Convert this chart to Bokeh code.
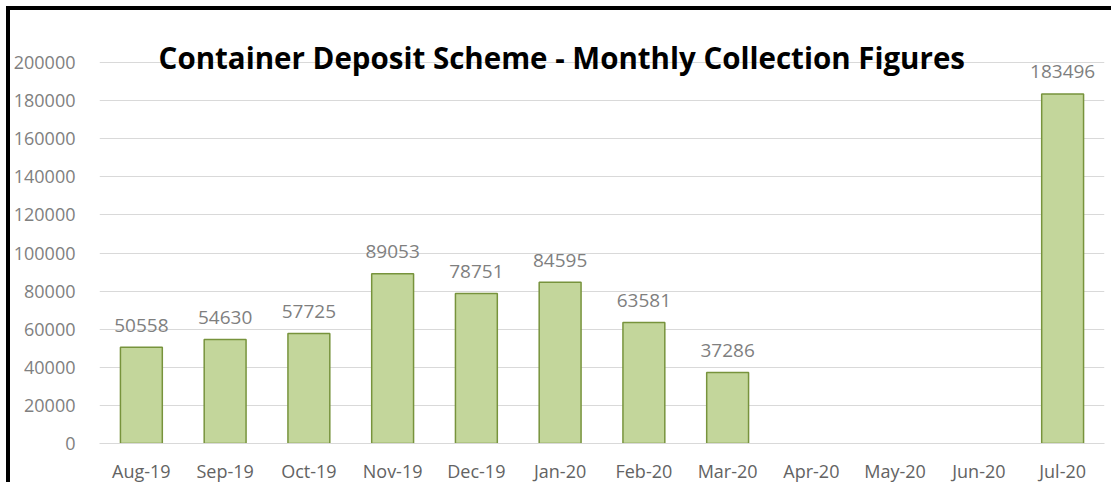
from bokeh.plotting import figure
from bokeh.models import FactorRange, Range1d, FixedTicker, Label, ColumnDataSource, NumeralTickFormatter
from bokeh.core.properties import value
from bokeh.embed import file_html
from bokeh.resources import INLINE

months = ["Aug-19", "Sep-19", "Oct-19", "Nov-19", "Dec-19", "Jan-20",
          "Feb-20", "Mar-20", "Apr-20", "May-20", "Jun-20", "Jul-20"]
collections = [50558, 54630, 57725, 89053, 78751, 84595,
               63581, 37286, None, None, None, 183496]
y_ticks = list(range(0, 200001, 20000))
title_text = "Container Deposit Scheme - Monthly Collection Figures"

FONT = "Open Sans"

pairs = [(m, v) for m, v in zip(months, collections) if v is not None]
src = ColumnDataSource(dict(
    month=[m for m, _ in pairs],
    val=[v for _, v in pairs],
    lbl=[str(v) for _, v in pairs],
))

W, H = 1105, 476
p = figure(width=W, height=H, output_backend="svg", toolbar_location=None,
           x_range=FactorRange(factors=months, range_padding=0),
           y_range=Range1d(0, 227300))
p.title.visible = False
p.min_border_left = 89
p.min_border_right = 11
p.min_border_top = 0
p.min_border_bottom = 43
p.outline_line_color = None
p.background_fill_color = "white"
p.border_fill_color = "white"
p.styles = {"margin-left": "6px", "margin-top": "6px",
            "border-left": "4px solid black", "border-top": "4px solid black"}

p.vbar(x="month", top="val", width=0.5, source=src,
       fill_color="#c3d69b", line_color="#77933c", line_width=1.5)

p.text(x="month", y="val", text="lbl", source=src,
       text_align="center", text_baseline="alphabetic", y_offset=-22,
       text_font=value(FONT), text_font_size="19px", text_color="#7f7f7f")

p.xgrid.grid_line_color = None
p.ygrid.grid_line_color = "#d9d9d9"
p.ygrid.grid_line_width = 1
p.yaxis.ticker = FixedTicker(ticks=y_ticks)
p.yaxis.formatter = NumeralTickFormatter(format="0")
p.yaxis.axis_line_color = None
p.yaxis.major_tick_line_color = None
p.yaxis.minor_tick_line_color = None
p.yaxis.major_label_standoff = 18
p.yaxis.major_label_text_font = FONT
p.yaxis.major_label_text_font_size = "18px"
p.yaxis.major_label_text_color = "#808080"

p.xaxis.axis_line_color = "#d9d9d9"
p.xaxis.major_tick_line_color = None
p.xaxis.minor_tick_line_color = None
p.xaxis.major_label_standoff = 9
p.xaxis.major_label_text_font = FONT
p.xaxis.major_label_text_font_size = "18px"
p.xaxis.major_label_text_color = "#636363"
p.xaxis.group_text_font_size = "0px"

p.add_layout(Label(x=5.52, y=202600, text=title_text, text_align="center",
                   text_baseline="alphabetic", text_font=FONT,
                   text_font_size="29.5px", text_font_style="bold",
                   text_color="black"))

open("out.html", "w").write(file_html(p, INLINE))
